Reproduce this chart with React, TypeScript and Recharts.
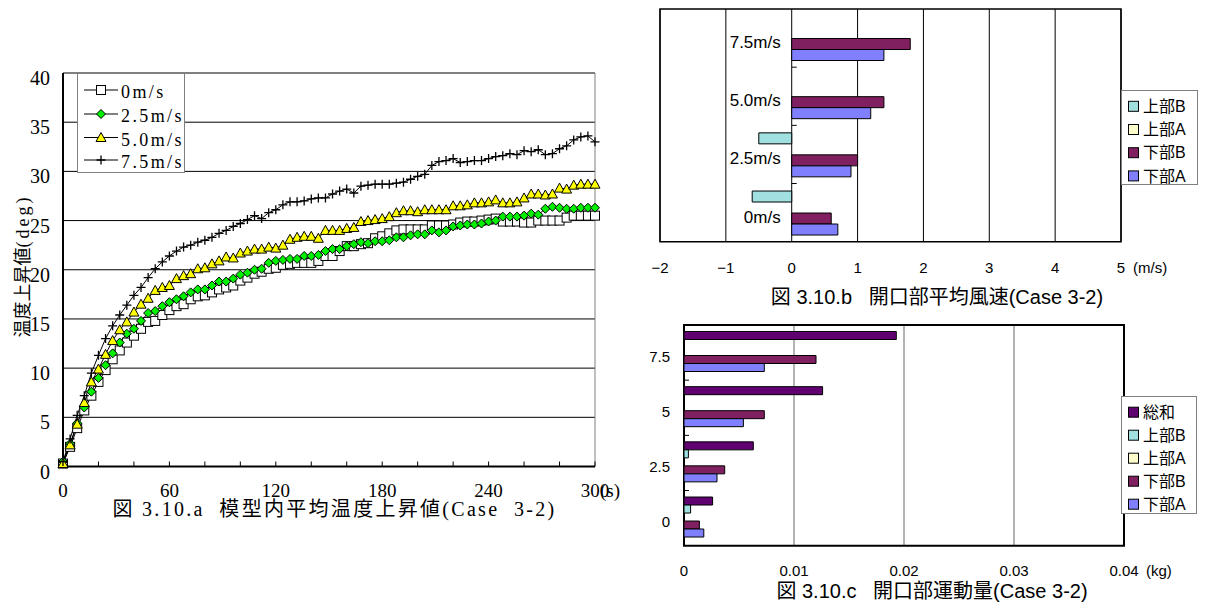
import React from "react";
import {
  LineChart,
  Line,
  BarChart,
  Bar,
  XAxis,
  YAxis,
  CartesianGrid,
  ReferenceLine,
  ReferenceArea,
  Legend,
} from "recharts";

const SERIF = '"Liberation Serif", "Noto Sans CJK JP", serif';
const SANS = '"Liberation Sans", "Noto Sans CJK JP", sans-serif';

// ---- 図3.10.a: mean temperature rise in the model, sampled every 4 s ----
const SAMPLE_STEP = 4;

const TEMP_0MS = [
  0.3, 2.0, 3.9, 5.7, 7.2, 8.6, 9.8, 10.9, 11.8, 12.6,
  13.3, 14.0, 14.7, 14.8, 15.4, 15.9, 16.3, 16.5, 17.0, 17.3,
  17.4, 17.7, 18.0, 18.2, 18.4, 18.9, 19.2, 19.6, 19.8, 20.1,
  20.2, 20.5, 20.6, 20.7, 20.7, 20.7, 20.9, 21.4, 21.4, 21.9,
  22.4, 22.4, 22.6, 22.7, 23.2, 23.4, 23.7, 24.0, 24.1, 24.1,
  24.1, 24.1, 24.5, 24.5, 24.5, 24.6, 24.8, 24.9, 24.9, 25.0,
  25.1, 25.2, 24.9, 24.9, 24.9, 24.8, 24.8, 25.0, 25.0, 25.0,
  25.0, 25.3, 25.5, 25.5, 25.5, 25.5,
];
const TEMP_25MS = [
  0.5, 2.3, 4.4, 6.0, 7.6, 9.0, 10.3, 11.5, 12.6, 13.5,
  14.0, 14.8, 15.6, 15.8, 16.3, 16.7, 17.0, 17.3, 17.7, 18.0,
  18.0, 18.4, 18.8, 18.8, 19.1, 19.5, 19.7, 20.0, 20.1, 20.7,
  20.9, 21.0, 21.1, 21.1, 21.4, 21.4, 21.5, 21.9, 22.1, 22.1,
  22.4, 22.6, 22.8, 22.7, 22.9, 22.9, 23.0, 23.3, 23.3, 23.5,
  23.6, 23.6, 24.0, 23.8, 24.0, 24.4, 24.5, 24.6, 24.6, 24.7,
  24.9, 25.0, 25.4, 25.4, 25.4, 25.5, 25.7, 25.6, 26.2, 26.4,
  26.3, 26.2, 26.2, 26.3, 26.3, 26.3,
];
const TEMP_50MS = [
  0.3, 2.2, 4.3, 6.5, 8.6, 9.9, 11.4, 12.8, 13.9, 14.7,
  15.7, 16.5, 17.1, 17.9, 18.2, 18.4, 19.1, 19.4, 19.6, 20.1,
  20.2, 20.6, 20.9, 21.3, 21.2, 21.7, 21.9, 22.1, 22.1, 22.3,
  22.2, 22.5, 23.1, 23.3, 23.4, 23.4, 23.2, 24.0, 24.0, 24.0,
  24.2, 24.3, 24.9, 25.0, 25.1, 25.2, 25.4, 25.8, 26.0, 26.0,
  25.9, 26.1, 26.1, 26.1, 26.1, 26.5, 26.5, 26.6, 26.8, 26.8,
  26.9, 27.1, 26.8, 26.8, 26.9, 27.3, 27.7, 27.7, 27.6, 27.7,
  28.3, 28.2, 28.6, 28.7, 28.7, 28.7,
];
const TEMP_75MS = [
  0.5, 2.8, 5.2, 7.2, 9.5, 11.3, 13.0, 14.3, 15.4, 16.4,
  17.4, 18.2, 19.2, 20.1, 20.8, 21.4, 21.9, 22.3, 22.5, 22.8,
  23.0, 23.3, 23.7, 24.0, 24.4, 24.7, 25.1, 25.5, 25.2, 25.8,
  26.1, 26.6, 26.9, 26.9, 27.0, 27.2, 27.3, 27.3, 27.7, 28.0,
  28.2, 27.8, 28.5, 28.6, 28.7, 28.7, 28.7, 28.8, 28.9, 29.2,
  29.5, 29.7, 30.6, 31.0, 31.1, 31.3, 30.9, 31.0, 31.1, 31.1,
  31.3, 31.5, 31.6, 31.8, 31.7, 32.1, 32.0, 32.2, 31.7, 31.8,
  32.3, 32.6, 33.2, 33.5, 33.6, 33.0,
];

const TIME_TICKS = [0, 20, 40, 60, 80, 100, 120, 140, 160, 180, 200, 220, 240, 260, 280, 300];
const TIME_LABELS = [0, 60, 120, 180, 240, 300];
const TEMP_TICKS = [0, 5, 10, 15, 20, 25, 30, 35, 40];

const TEMP_SERIES = [
  { key: "v0", name: "0m/s", marker: "square" },
  { key: "v25", name: "2.5m/s", marker: "diamond" },
  { key: "v50", name: "5.0m/s", marker: "triangle" },
  { key: "v75", name: "7.5m/s", marker: "plus" },
];

const tempData = TEMP_0MS.map((v, i) => ({
  t: i * SAMPLE_STEP,
  v0: v,
  v25: TEMP_25MS[i],
  v50: TEMP_50MS[i],
  v75: TEMP_75MS[i],
}));

// ---- 図3.10.b: mean wind speed at the openings (m/s) ----
const WIND_CATS = ["0m/s", "2.5m/s", "5.0m/s", "7.5m/s"];
const WIND_UPPER_B = [-0.6, -0.5, 0, 0];
const WIND_UPPER_A = [0, 0, 0, 0];
const WIND_LOWER_B = [0.6, 1.0, 1.4, 1.8];
const WIND_LOWER_A = [0.7, 0.9, 1.2, 1.4];
const WIND_TICKS = [-2, -1, 0, 1, 2, 3, 4, 5];

// ---- 図3.10.c: momentum through the openings (kg) ----
const MOM_CATS = ["0", "2.5", "5", "7.5"];
const MOM_TOTAL = [0.0026, 0.0063, 0.0126, 0.0193];
const MOM_UPPER_B = [0.0006, 0.0004, 0, 0];
const MOM_UPPER_A = [0, 0, 0, 0];
const MOM_LOWER_B = [0.0014, 0.0037, 0.0073, 0.012];
const MOM_LOWER_A = [0.0018, 0.003, 0.0054, 0.0073];
const MOM_TICKS = [0, 0.01, 0.02, 0.03, 0.04];

const COLOR = {
  total: "#600070",
  upperB: "#a0e0e0",
  upperA: "#ffffcc",
  lowerB: "#802060",
  lowerA: "#8080ff",
};

// categories are listed bottom-up, the bar chart draws the first row on top
const windData = WIND_CATS.map((c, i) => ({
  c,
  ub: WIND_UPPER_B[i],
  ua: WIND_UPPER_A[i],
  lb: WIND_LOWER_B[i],
  la: WIND_LOWER_A[i],
})).reverse();

const momData = MOM_CATS.map((c, i) => ({
  c,
  total: MOM_TOTAL[i],
  ub: MOM_UPPER_B[i],
  ua: MOM_UPPER_A[i],
  lb: MOM_LOWER_B[i],
  la: MOM_LOWER_A[i],
})).reverse();

const WIND_LEGEND = [
  { name: "上部B", color: COLOR.upperB },
  { name: "上部A", color: COLOR.upperA },
  { name: "下部B", color: COLOR.lowerB },
  { name: "下部A", color: COLOR.lowerA },
];
const MOM_LEGEND = [{ name: "総和", color: COLOR.total }, ...WIND_LEGEND];

// ---- markers ----
function Marker({ kind, cx, cy }: { kind: string; cx: number; cy: number }) {
  if (kind === "square")
    return <rect x={cx - 4.5} y={cy - 4.5} width={9} height={9} fill="#fff" stroke="#000" strokeWidth={1} />;
  if (kind === "diamond")
    return (
      <polygon
        points={`${cx},${cy - 4.5} ${cx + 4.5},${cy} ${cx},${cy + 4.5} ${cx - 4.5},${cy}`}
        fill="#00f000"
        stroke="#000"
        strokeWidth={1}
      />
    );
  if (kind === "triangle")
    return (
      <polygon
        points={`${cx},${cy - 5} ${cx + 5},${cy + 4} ${cx - 5},${cy + 4}`}
        fill="#ffff00"
        stroke="#000"
        strokeWidth={1}
      />
    );
  return <path d={`M${cx - 4.5},${cy}H${cx + 4.5}M${cx},${cy - 4.5}V${cy + 4.5}`} stroke="#000" strokeWidth={1.3} />;
}

const dotFor = (kind: string) => (p: any) =>
  p.cx == null ? <g key={`${kind}${p.index}`} /> : (
    <g key={`${kind}${p.index}`}>
      <Marker kind={kind} cx={p.cx} cy={p.cy} />
    </g>
  );

// ---- chart A ----
const A_W = 640;
const A_H = 530;

const TempYTick = ({ x, y, payload }: any) => (
  <text x={x} y={y + 5} dy="0.35em" textAnchor="end" fontFamily={SERIF} fontSize={20} fill="#000">
    {payload.value}
  </text>
);

const TimeXTick = ({ x, y, payload }: any) => {
  if (!TIME_LABELS.includes(payload.value)) return <g />;
  return (
    <g>
      <text x={x} y={y} dy="0.35em" textAnchor="middle" fontFamily={SERIF} fontSize={19} fill="#000">
        {payload.value}
      </text>
      {payload.value === 300 && (
        <text x={x + 5} y={y} dy="0.35em" textAnchor="start" fontFamily={SERIF} fontSize={19} fill="#000">
          (s)
        </text>
      )}
    </g>
  );
};

function TempLegend() {
  const rows = [16, 40, 63.5, 86];
  return (
    <svg width={108} height={100} style={{ display: "block" }}>
      {TEMP_SERIES.map((s, i) => (
        <g key={s.key}>
          <line x1={6} x2={40} y1={rows[i]} y2={rows[i]} stroke="#000" strokeWidth={1} />
          <Marker kind={s.marker} cx={23} cy={rows[i]} />
          <text
            x={43}
            y={rows[i] + 2}
            dy="0.35em"
            fontFamily={SERIF}
            fontSize={18}
            letterSpacing={2.4}
            fill="#000"
          >
            {s.name}
          </text>
        </g>
      ))}
    </svg>
  );
}

function TempChart() {
  return (
    <LineChart width={A_W} height={A_H} data={tempData} margin={{ top: 73, right: 45, bottom: 33.5, left: 13 }}>
      <CartesianGrid vertical={false} stroke="#000" strokeWidth={1} />
      <ReferenceLine x={300} stroke="#808080" strokeWidth={1} />
      <XAxis
        type="number"
        dataKey="t"
        domain={[0, 300]}
        ticks={TIME_TICKS}
        interval={0}
        height={30}
        axisLine={{ stroke: "#000", strokeWidth: 2 }}
        tickLine={{ stroke: "#000", strokeWidth: 1 }}
        tickSize={-5}
        tickMargin={29}
        tick={TimeXTick}
      />
      <YAxis
        type="number"
        domain={[0, 40]}
        ticks={TEMP_TICKS}
        interval={0}
        width={50}
        axisLine={{ stroke: "#000", strokeWidth: 2 }}
        tickLine={false}
        tickMargin={7}
        tick={TempYTick}
      />
      {TEMP_SERIES.map((s) => (
        <Line
          key={s.key}
          type="linear"
          dataKey={s.key}
          name={s.name}
          stroke="#000"
          strokeWidth={1}
          dot={dotFor(s.marker)}
          activeDot={false}
          isAnimationActive={false}
        />
      ))}
      <Legend
        layout="vertical"
        align="center"
        verticalAlign="middle"
        content={() => <TempLegend />}
        wrapperStyle={{
          left: 77,
          top: 73,
          width: 108,
          height: 100,
          border: "1px solid #808080",
          background: "#fff",
          boxSizing: "border-box",
          overflow: "hidden",
        }}
      />
    </LineChart>
  );
}

// ---- shared legend for the bar charts ----
function BarLegend({ items, first, gap }: { items: { name: string; color: string }[]; first: number; gap: number }) {
  return (
    <svg width={80} height={130} style={{ display: "block" }}>
      {items.map((it, i) => {
        const cy = first + i * gap;
        return (
          <g key={it.name}>
            <rect x={6.5} y={cy - 5} width={10} height={10} fill={it.color} stroke="#000" strokeWidth={1} />
            <text x={21} y={cy} dy="0.36em" fontFamily={SANS} fontSize={16} fill="#000">
              {it.name}
            </text>
          </g>
        );
      })}
    </svg>
  );
}

// ---- chart B ----
const B_W = 605;
const B_H = 310;
const B_MARGIN = { top: 9, right: 84, bottom: 38.3, left: 20 };
const B_YAXIS_W = 40;
const B_XAXIS_H = 30;
const B_PLOT_LEFT = B_MARGIN.left + B_YAXIS_W;
const B_PLOT_W = B_W - B_PLOT_LEFT - B_MARGIN.right;
const B_PLOT_H = B_H - B_MARGIN.top - B_MARGIN.bottom - B_XAXIS_H;
const B_BAND = B_PLOT_H / WIND_CATS.length;
const B_ZERO_X =
  B_PLOT_LEFT + (B_PLOT_W * (0 - WIND_TICKS[0])) / (WIND_TICKS[WIND_TICKS.length - 1] - WIND_TICKS[0]);

const WindXTick = ({ x, y, payload }: any) => (
  <g>
    <text x={x} y={y} dy="0.35em" textAnchor="middle" fontFamily={SANS} fontSize={15} fill="#000">
      {payload.value < 0 ? `\u2212${-payload.value}` : payload.value}
    </text>
    {payload.value === 5 && (
      <text x={x + 12} y={y} dy="0.35em" textAnchor="start" fontFamily={SANS} fontSize={15} fill="#000">
        (m/s)
      </text>
    )}
  </g>
);

const WindYTick = ({ y, payload, index }: any) => (
  <g>
    <text x={B_ZERO_X - 11} y={y + 4} dy="0.35em" textAnchor="end" fontFamily={SANS} fontSize={17} fill="#000">
      {payload.value}
    </text>
    {index < WIND_CATS.length - 1 && (
      <line x1={B_ZERO_X} x2={B_ZERO_X + 5} y1={y + B_BAND / 2} y2={y + B_BAND / 2} stroke="#000" strokeWidth={1} />
    )}
  </g>
);

function WindChart() {
  return (
    <BarChart
      width={B_W}
      height={B_H}
      data={windData}
      layout="vertical"
      margin={B_MARGIN}
      barCategoryGap={7.5}
      barGap={0}
    >
      <CartesianGrid horizontal={false} stroke="#000" strokeWidth={1} />
      <XAxis
        type="number"
        domain={[-2, 5]}
        ticks={WIND_TICKS}
        interval={0}
        height={B_XAXIS_H}
        axisLine={false}
        tickLine={false}
        tickMargin={20}
        tick={WindXTick}
      />
      <YAxis
        type="category"
        dataKey="c"
        width={B_YAXIS_W}
        axisLine={false}
        tickLine={false}
        interval={0}
        tick={WindYTick}
      />
      <ReferenceArea x1={-2} x2={5} fill="none" stroke="#000" strokeWidth={1.5} ifOverflow="visible" />
      <Bar dataKey="ub" name="上部B" fill={COLOR.upperB} stroke="#000" strokeWidth={1} isAnimationActive={false} />
      <Bar dataKey="ua" name="上部A" fill={COLOR.upperA} stroke="#000" strokeWidth={1} isAnimationActive={false} />
      <Bar dataKey="lb" name="下部B" fill={COLOR.lowerB} stroke="#000" strokeWidth={1} isAnimationActive={false} />
      <Bar dataKey="la" name="下部A" fill={COLOR.lowerA} stroke="#000" strokeWidth={1} isAnimationActive={false} />
      <Legend
        layout="vertical"
        align="center"
        verticalAlign="middle"
        content={() => <BarLegend items={WIND_LEGEND} first={15.3} gap={23.2} />}
        wrapperStyle={{
          left: 520.6,
          top: 89.7,
          width: 77,
          height: 95,
          border: "1px solid #808080",
          background: "#fff",
          boxSizing: "border-box",
          overflow: "hidden",
        }}
      />
    </BarChart>
  );
}

// ---- chart C ----
const C_W = 605;
const C_H = 295;
const C_MARGIN = { top: 15, right: 81, bottom: 29.3, left: 44 };
const C_YAXIS_W = 40;
const C_XAXIS_H = 30;
const C_PLOT_LEFT = C_MARGIN.left + C_YAXIS_W;
const C_PLOT_H = C_H - C_MARGIN.top - C_MARGIN.bottom - C_XAXIS_H;
const C_BAND = C_PLOT_H / MOM_CATS.length;

const MomXTick = ({ x, y, payload }: any) => (
  <g>
    <text x={x} y={y} dy="0.35em" textAnchor="middle" fontFamily={SANS} fontSize={15} fill="#000">
      {payload.value}
    </text>
    {payload.value === 0.04 && (
      <text x={x + 22} y={y} dy="0.35em" textAnchor="start" fontFamily={SANS} fontSize={15} fill="#000">
        (kg)
      </text>
    )}
  </g>
);

const MomYTick = ({ x, y, payload, index }: any) => (
  <g>
    <text x={x} y={y + 4} dy="0.35em" textAnchor="end" fontFamily={SANS} fontSize={15} fill="#000">
      {payload.value}
    </text>
    {index < MOM_CATS.length - 1 && (
      <line
        x1={C_PLOT_LEFT}
        x2={C_PLOT_LEFT + 5}
        y1={y + C_BAND / 2}
        y2={y + C_BAND / 2}
        stroke="#000"
        strokeWidth={1}
      />
    )}
  </g>
);

function MomentumChart() {
  return (
    <BarChart
      width={C_W}
      height={C_H}
      data={momData}
      layout="vertical"
      margin={C_MARGIN}
      barCategoryGap={6.5}
      barGap={0}
    >
      <CartesianGrid horizontal={false} stroke="#666" strokeWidth={1} />
      <XAxis
        type="number"
        domain={[0, 0.04]}
        ticks={MOM_TICKS}
        interval={0}
        height={C_XAXIS_H}
        axisLine={false}
        tickLine={false}
        tickMargin={19.3}
        tick={MomXTick}
      />
      <YAxis
        type="category"
        dataKey="c"
        width={C_YAXIS_W}
        axisLine={false}
        tickLine={false}
        tickMargin={8}
        interval={0}
        tick={MomYTick}
      />
      <ReferenceArea x1={0} x2={0.04} fill="none" stroke="#000" strokeWidth={2} ifOverflow="visible" />
      <Bar dataKey="total" name="総和" fill={COLOR.total} stroke="#000" strokeWidth={1} isAnimationActive={false} />
      <Bar dataKey="ub" name="上部B" fill={COLOR.upperB} stroke="#000" strokeWidth={1} isAnimationActive={false} />
      <Bar dataKey="ua" name="上部A" fill={COLOR.upperA} stroke="#000" strokeWidth={1} isAnimationActive={false} />
      <Bar dataKey="lb" name="下部B" fill={COLOR.lowerB} stroke="#000" strokeWidth={1} isAnimationActive={false} />
      <Bar dataKey="la" name="下部A" fill={COLOR.lowerA} stroke="#000" strokeWidth={1} isAnimationActive={false} />
      <Legend
        layout="vertical"
        align="center"
        verticalAlign="middle"
        content={() => <BarLegend items={MOM_LEGEND} first={15.2} gap={23} />}
        wrapperStyle={{
          left: 520.7,
          top: 86,
          width: 76,
          height: 118,
          border: "1px solid #808080",
          background: "#fff",
          boxSizing: "border-box",
          overflow: "hidden",
        }}
      />
    </BarChart>
  );
}

const titleStyle: React.CSSProperties = {
  position: "absolute",
  textAlign: "center",
  whiteSpace: "pre",
  color: "#000",
  lineHeight: "24px",
};

export default function App() {
  return (
    <div
      style={{
        position: "absolute",
        left: 0,
        top: 0,
        width: 1205,
        height: 605,
        background: "#fff",
        overflow: "hidden",
      }}
    >
      <div style={{ position: "absolute", left: 0, top: 0 }}>
        <TempChart />
      </div>
      <div style={{ position: "absolute", left: 600, top: 0 }}>
        <WindChart />
      </div>
      <div style={{ position: "absolute", left: 600, top: 310 }}>
        <MomentumChart />
      </div>

      {/* vertical axis title of the temperature chart */}
      <div
        style={{
          position: "absolute",
          left: 23 - 110,
          top: 266 - 12,
          width: 220,
          height: 24,
          lineHeight: "24px",
          textAlign: "center",
          transform: "rotate(-90deg)",
          fontFamily: SERIF,
          fontSize: 18,
          color: "#000",
          whiteSpace: "pre",
        }}
      >
        温度上昇値<span style={{ letterSpacing: 3 }}>(deg)</span>
      </div>

      <div style={{ ...titleStyle, left: 0, width: 669, top: 497, fontFamily: SERIF, fontSize: 20, letterSpacing: 2.3 }}>
        {"図 3.10.a  模型内平均温度上昇値(Case  3-2)"}
      </div>
      <div style={{ ...titleStyle, left: 737, width: 400, top: 285, fontFamily: SANS, fontSize: 20 }}>
        {"図 3.10.b   開口部平均風速(Case 3-2)"}
      </div>
      <div style={{ ...titleStyle, left: 732, width: 400, top: 578.5, fontFamily: SANS, fontSize: 20 }}>
        {"図 3.10.c   開口部運動量(Case 3-2)"}
      </div>
    </div>
  );
}
